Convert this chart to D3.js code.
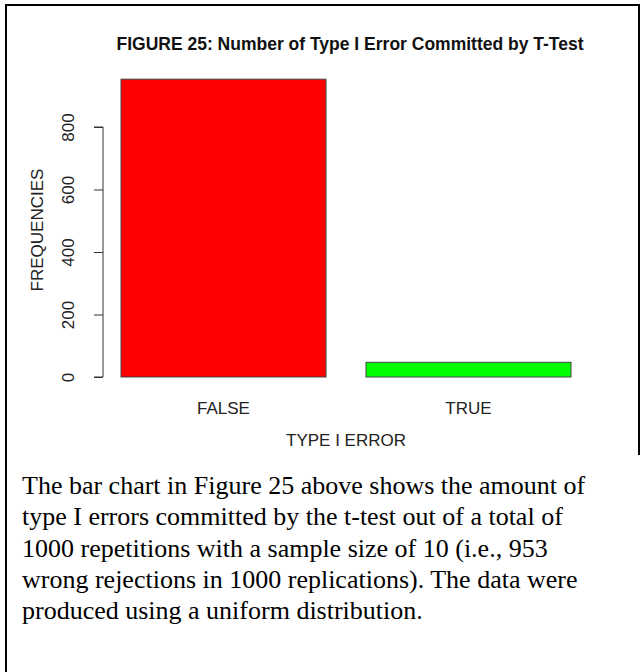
<!DOCTYPE html>
<html>
<head>
<meta charset="utf-8">
<script src="https://cdn.jsdelivr.net/npm/d3@7"></script>
<style>
  body { margin: 0; background: #fff; }
</style>
</head>
<body>
<div id="app"></div>
<script>
let categories = ['FALSE', 'TRUE'];
let counts = [953, 47];
let barColors = ['#ff0000', '#00ff00'];
let yTicks = [0, 200, 400, 600, 800];
let captionLines = [
  'The bar chart in Figure 25 above shows the amount of',
  'type I errors committed by the t-test out of a total of',
  '1000 repetitions with a sample size of 10 (i.e., 953',
  'wrong rejections in 1000 replications). The data were',
  'produced using a uniform distribution.'
];

let svg = d3.select('#app').append('svg')
    .attr('width', 641)
    .attr('height', 672)
    .style('font-family', 'Liberation Sans, Arial, sans-serif');

// frame around the figure
svg.append('path')
    .attr('d', 'M6,672 V5 H639 V455')
    .attr('fill', 'none')
    .attr('stroke', '#000')
    .attr('stroke-width', 2);

// plot area: 0 -> 377, 800 -> 127
let yScale = d3.scaleLinear()
               .domain([0, 800])
               .range([377, 127]);

let xScale = d3.scaleBand()
               .domain(categories)
               .range([101, 591])
               .paddingInner(40 / 245)
               .paddingOuter(20 / 245);

svg.append('text')
    .attr('x', 350)
    .attr('y', 50)
    .attr('text-anchor', 'middle')
    .style('font-weight', 'bold')
    .style('font-size', '17.5px')
    .style('fill', '#111')
    .text('FIGURE 25: Number of Type I Error Committed by T-Test');

svg.selectAll('rect.bar')
    .data(counts)
    .enter()
    .append('rect')
      .attr('class', 'bar')
      .attr('x', (d, i) => xScale(categories[i]))
      .attr('y', d => yScale(d))
      .attr('width', xScale.bandwidth())
      .attr('height', d => yScale(0) - yScale(d))
      .attr('fill', (d, i) => barColors[i])
      .attr('stroke', '#444')
      .attr('stroke-width', 1);

// y axis
let yAxis = d3.axisLeft(yScale)
              .tickValues(yTicks)
              .tickSize(9)
              .tickPadding(0);

let yGuide = svg.append('g')
    .attr('transform', 'translate(103,0)')
    .call(yAxis);

yGuide.select('.domain')
    .attr('d', `M-9,${yScale(0)}H0V${yScale(800)}H-9`)
    .attr('stroke', '#333');
yGuide.selectAll('.tick line').attr('stroke', '#333');
yGuide.selectAll('.tick text')
    .attr('transform', 'rotate(-90)')
    .attr('x', 0)
    .attr('y', -35)
    .attr('dy', '0.35em')
    .attr('text-anchor', 'middle')
    .style('font-size', '17px')
    .style('font-family', 'Liberation Sans, Arial, sans-serif')
    .style('fill', '#222');

// category labels
svg.selectAll('text.cat')
    .data(categories)
    .enter()
    .append('text')
      .attr('class', 'cat')
      .attr('x', d => xScale(d) + xScale.bandwidth() / 2)
      .attr('y', 414)
      .attr('text-anchor', 'middle')
      .style('font-size', '17px')
      .style('fill', '#222')
      .text(d => d);

svg.append('text')
    .attr('x', 346)
    .attr('y', 446)
    .attr('text-anchor', 'middle')
    .style('font-size', '17px')
    .style('fill', '#222')
    .text('TYPE I ERROR');

svg.append('text')
    .attr('transform', 'translate(43,230) rotate(-90)')
    .attr('text-anchor', 'middle')
    .style('font-size', '17px')
    .style('fill', '#222')
    .text('FREQUENCIES');

// caption below the chart
svg.selectAll('text.caption')
    .data(captionLines)
    .enter()
    .append('text')
      .attr('class', 'caption')
      .attr('x', 22)
      .attr('y', (d, i) => 494 + i * 31.25)
      .style('font-family', 'Liberation Serif, Times New Roman, serif')
      .style('font-size', '26px')
      .style('fill', '#000')
      .text(d => d);
</script>
</body>
</html>
